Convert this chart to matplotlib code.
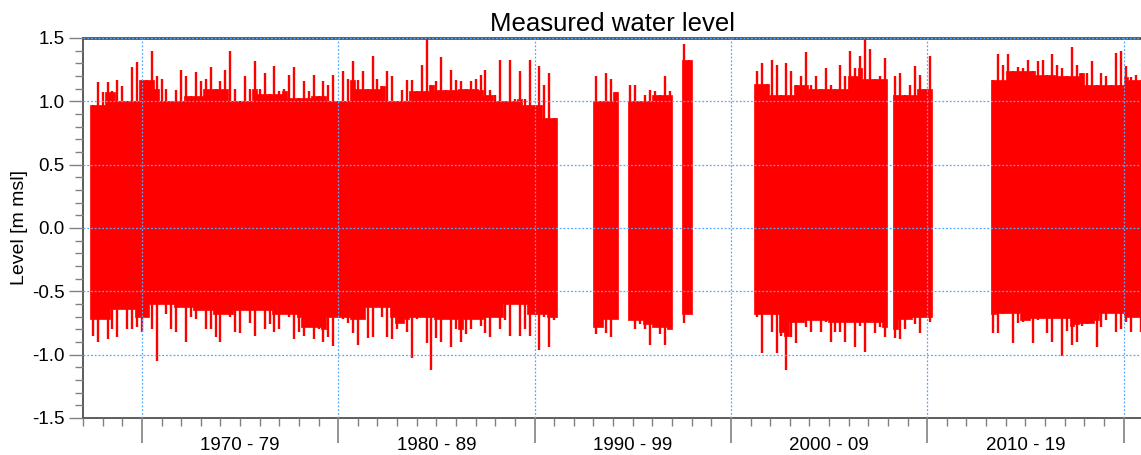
import numpy as np
import matplotlib
matplotlib.use("Agg")
import matplotlib.pyplot as plt
from matplotlib.ticker import MultipleLocator, FuncFormatter

plt.rcParams['font.family'] = ['Liberation Sans', 'DejaVu Sans']

# Pas d'echantillonnage des enveloppes (annees)
pas = 0.25

# Debut de chaque periode de mesure (annee decimale)
debuts = [1967.375, 1993.0, 1994.75, 1997.5, 2001.2, 2008.25, 2013.25]

# Niveaux max / min [m msl], periode par periode
haut_1967 = [0.97, 1.15, 1.07, 1.15, 1.08, 1.17, 1.12, 1.0, 1.27, 1.31,
             1.17, 1.17, 1.4, 1.2, 1.18, 1.1, 1.0, 1.09, 1.25, 1.2,
             1.04, 1.23, 1.16, 1.18, 1.27, 1.1, 1.16, 1.25, 1.4, 1.1,
             1.0, 1.2, 1.1, 1.32, 1.1, 1.22, 1.06, 1.28, 1.08, 1.1,
             1.21, 1.27, 1.03, 1.16, 1.08, 1.21, 1.04, 1.16, 1.13, 1.21,
             1.0, 1.24, 1.18, 1.32, 1.17, 1.24, 1.1, 1.36, 1.18, 1.12,
             1.24, 1.2, 1.0, 1.09, 1.17, 1.17, 1.08, 1.29, 1.49, 1.13,
             1.16, 1.35, 1.09, 1.25, 1.17, 1.16, 1.1, 1.16, 1.18, 1.21,
             1.25, 1.09, 1.05, 1.33, 1.0, 1.33, 1.02, 1.24, 1.02, 1.33,
             0.97, 1.28, 1.13, 1.22, 0.87]
bas_1967 = [-0.85, -0.9, -0.72, -0.88, -0.8, -0.86, -0.64, -0.8, -0.8, -0.78,
            -0.82, -0.7, -0.8, -1.05, -0.6, -0.68, -0.8, -0.82, -0.62, -0.9,
            -0.7, -0.72, -0.65, -0.8, -0.8, -0.86, -0.9, -0.68, -0.7, -0.82,
            -0.83, -0.65, -0.75, -0.85, -0.65, -0.8, -0.76, -0.82, -0.8, -0.68,
            -0.7, -0.88, -0.82, -0.85, -0.78, -0.88, -0.8, -0.9, -0.86, -0.93,
            -0.7, -0.72, -0.75, -0.83, -0.92, -0.72, -0.87, -0.86, -0.62, -0.7,
            -0.86, -0.88, -0.8, -0.75, -0.82, -1.03, -0.72, -0.7, -0.91, -1.12,
            -0.87, -0.9, -0.72, -0.94, -0.8, -0.9, -0.84, -0.8, -0.72, -0.77,
            -0.83, -0.86, -0.7, -0.8, -0.73, -0.85, -0.6, -0.85, -0.8, -0.85,
            -0.68, -0.96, -0.7, -0.94, -0.73]

haut_1993 = [1.2, 1.0, 1.22, 1.18, 1.07]
bas_1993 = [-0.84, -0.78, -0.83, -0.86, -0.72]

haut_1994 = [1.13, 1.13, 1.0, 1.05, 1.09, 1.08, 1.05, 1.2, 1.08]
bas_1994 = [-0.73, -0.8, -0.76, -0.8, -0.92, -0.78, -0.84, -0.92, -0.8]

haut_1997 = [1.45, 1.33]
bas_1997 = [-0.75, -0.68]

haut_2001 = [1.24, 1.3, 1.14, 1.33, 1.29, 1.05, 1.3, 1.24, 1.13, 1.2,
             1.39, 1.13, 1.2, 1.1, 1.26, 1.13, 1.1, 1.29, 1.2, 1.4,
             1.26, 1.36, 1.5, 1.41, 1.18, 1.2, 1.34]
bas_2001 = [-0.7, -0.99, -0.68, -0.82, -0.99, -0.85, -1.12, -0.86, -0.91, -0.74,
            -0.78, -0.82, -0.73, -0.82, -0.74, -0.9, -0.82, -0.82, -0.9, -0.74,
            -0.94, -0.77, -0.98, -0.74, -0.83, -0.78, -0.86]

haut_2008 = [1.2, 1.22, 1.05, 1.13, 1.28, 1.21, 1.1, 1.36]
bas_2008 = [-0.87, -0.88, -0.8, -0.72, -0.76, -0.83, -0.7, -0.74]

haut_2013 = [1.17, 1.37, 1.29, 1.37, 1.24, 1.27, 1.26, 1.33, 1.24, 1.32,
             1.33, 1.21, 1.37, 1.29, 1.26, 1.2, 1.43, 1.29, 1.22, 1.22,
             1.32, 1.13, 1.22, 1.2, 1.13, 1.38, 1.4, 1.28, 1.19, 1.21, 1.17]
bas_2013 = [-0.83, -0.83, -0.68, -0.67, -0.91, -0.75, -0.74, -0.73, -0.91, -0.73,
            -0.71, -0.83, -0.9, -0.71, -1.01, -0.81, -0.92, -0.9, -0.77, -0.76,
            -0.75, -0.94, -0.78, -0.73, -0.67, -0.82, -0.8, -0.74, -0.82, -0.7, -0.82]

hauts = [haut_1967, haut_1993, haut_1994, haut_1997, haut_2001, haut_2008, haut_2013]
bas = [bas_1967, bas_1993, bas_1994, bas_1997, bas_2001, bas_2008, bas_2013]

rouge = '#ff0000'

fig = plt.figure(figsize=(11.41, 4.55), dpi=100)
ax = fig.add_axes([83 / 1141, 1 - 418 / 455, 1 - 83 / 1141, 380 / 455])

for t0, h, b in zip(debuts, hauts, bas):
    h = np.array(h)
    b = np.array(b)
    n = len(h)
    t = t0 + pas * np.arange(n + 1)
    # coeur plein : le plus bas des pics voisins (fenetre de 5)
    hp = np.pad(h, 2, mode='edge')
    bp = np.pad(b, 2, mode='edge')
    coeur_h = np.min([hp[k:k + n] for k in range(5)], axis=0)
    coeur_b = np.max([bp[k:k + n] for k in range(5)], axis=0)
    ax.fill_between(t, np.append(coeur_b, coeur_b[-1]), np.append(coeur_h, coeur_h[-1]),
                    step='post', color=rouge, lw=0.5, ec=rouge)
    # pics
    ax.vlines(t[:-1] + pas / 2, b, h, color=rouge, lw=1.7)

ax.set_xlim(1967.0, 2020.89)
ax.set_ylim(-1.5, 1.5)

# Axe des y
ax.yaxis.set_major_locator(MultipleLocator(0.5))
ax.yaxis.set_minor_locator(MultipleLocator(0.1))
ax.yaxis.set_major_formatter(FuncFormatter(lambda v, p: '%.1f' % v))

# Axe des x : decennies (grands traits) et annees (petits traits)
ax.set_xticks(np.arange(1970, 2021, 10))
ax.set_xticklabels([])
ax.set_xticks(np.arange(1967, 2021, 1), minor=True)


def nom_decennie(v, p):
    an = int(round(v))
    if an % 10 == 5:
        d = an - 5
        return '%d - %02d' % (d, (d + 9) % 100)
    return ''


ax.xaxis.set_minor_formatter(FuncFormatter(nom_decennie))

ax.tick_params(axis='x', which='major', length=18, color='#808080', width=1.2)
ax.tick_params(axis='x', which='minor', length=6, color='#808080', width=1,
               labelsize=13.5, pad=8)
ax.tick_params(axis='y', which='major', length=10, color='#808080', width=1,
               labelsize=13.5, pad=3)
ax.tick_params(axis='y', which='minor', length=6, color='#808080', width=1)

ax.grid(True, which='major', color='#55aaff', linestyle=(0, (1.5, 1.5)), linewidth=0.9)
ax.set_axisbelow(False)

for cote in ['left', 'bottom']:
    ax.spines[cote].set_color('#404040')
    ax.spines[cote].set_linewidth(1.2)
ax.spines['top'].set_color('#505050')
ax.spines['top'].set_linewidth(2)
ax.spines['right'].set_visible(False)

ax.set_ylabel('Level [m msl]', fontsize=14, labelpad=3)
ax.set_title('Measured water level', fontsize=18.5, pad=5)

fig.savefig('out.png', dpi=100)
